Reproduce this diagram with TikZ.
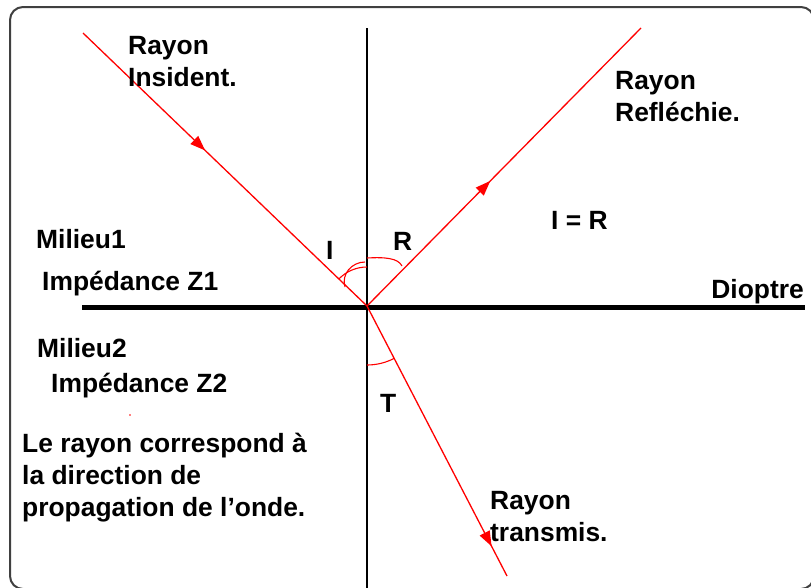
\documentclass[tikz,border=0pt]{standalone}
\usepackage{fontspec}
\setmainfont{Liberation Sans}
\usetikzlibrary{arrows.meta,decorations.markings}
\begin{document}
\begin{tikzpicture}[x=1pt,y=-1pt,
  lbl/.style={font=\fontsize{26.4}{32}\selectfont\bfseries, inner sep=0pt, align=left},
  ray/.style={red, line width=1.3pt},
  rayarrow/.style={postaction={decorate}, decoration={markings,
     mark=at position #1 with {\arrow{Triangle[length=15pt,width=11pt]}}}},
  angarc/.style={red, line width=1.1pt},
  frameline/.style={draw=black!75, line width=2pt, rounded corners=13pt},
  normalline/.style={black, line width=1.5pt},
  dioptreline/.style={black, line width=5pt}]
\useasboundingbox (0,0) rectangle (811,587);
\clip (0,0) rectangle (811,587);
\fill[white] (0,0) rectangle (811,587);
\draw[frameline] (10,7) rectangle (814,589);

% key points
\coordinate (O) at (367,306);
\coordinate (A) at (83,33);
\coordinate (B) at (641,28);
\coordinate (C) at (507,576);
\coordinate (N1) at (367,28);
\coordinate (N2) at (367,590);
\coordinate (D1) at (82,307);
\coordinate (D2) at (805,307);

% normal and dioptre
\draw[normalline] (N1) -- (N2);
\draw[dioptreline] (D1) -- (D2);

% rays
\draw[ray, rayarrow=0.43] (A) -- (O);
\draw[ray, rayarrow=0.45] (O) -- (B);
\draw[ray, rayarrow=0.89] (O) -- (C);

% angle arcs
\draw[angarc] (O) ++(-90:39) arc[start angle=-90, end angle=-136, radius=39];
\draw[angarc] (365,262) .. controls (352,262) and (341,274) .. (345,287);
\draw[angarc] (O) ++(-90:48) .. controls (385,257) and (398,258) .. (402,266);
\draw[angarc] (O) ++(90:59) arc[start angle=90, end angle=62.6, radius=59];

% red dot
\fill[red] (130,415) circle (0.9);

% labels
\node[lbl, anchor=north west] (inc) at (128,36) {Rayon\\Insident.};
\node[lbl, anchor=north west] (refl) at (615,71) {Rayon\\Refléchie.};
\node[lbl, anchor=north west] (trans) at (490,491) {Rayon\\transmis.};
\node[lbl, anchor=base west] (eq) at (551,229) {I = R};
\node[lbl, anchor=base west] (lR) at (393,250) {R};
\node[lbl, anchor=base west] (lI) at (326,259) {I};
\node[lbl, anchor=base west] (lT) at (380,412) {T};
\node[lbl, anchor=base west] (m1) at (36,248) {Milieu1};
\node[lbl, anchor=base west] (z1) at (42,290) {Impédance Z1};
\node[lbl, anchor=base east] (diop) at (804,298) {Dioptre};
\node[lbl, anchor=base west] (m2) at (37,357) {Milieu2};
\node[lbl, anchor=base west] (z2) at (51,392) {Impédance Z2};
\node[lbl, anchor=north west] (note) at (22,433) {Le rayon correspond à\\la direction de\\propagation de l’onde.};
\end{tikzpicture}
\end{document}
